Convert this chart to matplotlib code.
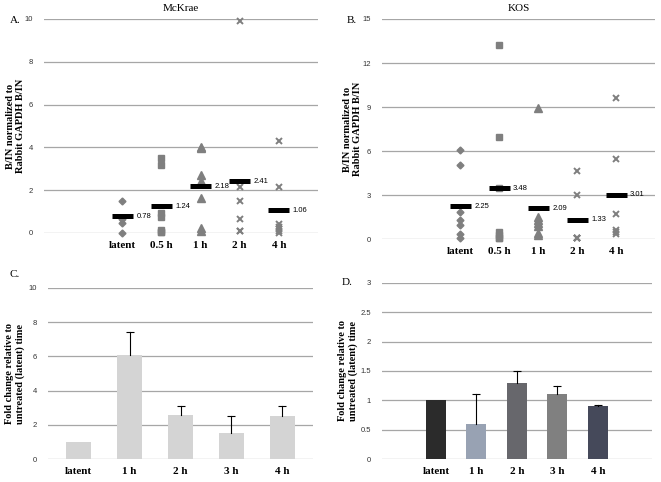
"""
Four-panel figure: B/IN scatter with means (McKrae, KOS) and fold-change bars.
"""
import matplotlib
matplotlib.use("Agg")
import matplotlib.pyplot as plt
from matplotlib.ticker import FuncFormatter
import numpy as np

SERIF = ["Liberation Serif", "DejaVu Serif"]
SANS = ["Liberation Sans", "DejaVu Sans"]
GRID = "#a6a6a6"
MARK = "#7f7f7f"

# --- panel A / B: individual values and group means --------------------------
scatter_cats = ["latent", "0.5 h", "1 h", "2 h", "4 h"]
scatter_markers = ["D", "s", "^", "x", "x"]

mckrae_vals = [
    [1.48, 0.67, 0.47, 0.0],
    [3.5, 3.2, 0.95, 0.75, 0.15, 0.05, 0.05],
    [4.0, 3.95, 2.7, 2.45, 1.65, 0.25, 0.1],
    [9.9, 2.15, 1.5, 0.65, 0.1, 0.1],
    [4.3, 2.15, 0.4, 0.3, 0.2, 0.1, 0.0],
]
mckrae_means = [0.78, 1.24, 2.18, 2.41, 1.06]

kos_vals = [
    [6.08, 5.06, 1.84, 1.32, 0.98, 0.34, 0.09],
    [13.2, 6.95, 3.5, 0.45, 0.25, 0.1, 0.05],
    [8.95, 1.5, 1.3, 1.1, 0.9, 0.4, 0.25],
    [4.65, 3.0, 0.1, 0.1, 0.05, 0.05],
    [9.6, 5.45, 1.7, 0.6, 0.45, 0.35],
]
kos_means = [2.25, 3.48, 2.09, 1.33, 3.01]

# --- panel C / D: fold change bars --------------------------------------------
bar_cats = ["latent", "1 h", "2 h", "3 h", "4 h"]
mckrae_fold = [1.0, 6.1, 2.6, 1.5, 2.5]
mckrae_err = [0.0, 1.3, 0.5, 1.0, 0.6]
kos_fold = [1.0, 0.6, 1.3, 1.1, 0.9]
kos_err = [0.0, 0.5, 0.2, 0.15, 0.02]
kos_colors = ["#2b2b2b", "#98a2b3", "#67676c", "#808080", "#45495a"]

fig = plt.figure(figsize=(6.61, 4.82), dpi=100)
general = FuncFormatter(lambda v, _: f"{v:g}")


def style(ax, ymax, step, ylabel, letter, lx, ly, labx):
    ax.set_ylim(0, ymax)
    ax.set_yticks(np.arange(0, ymax + step / 2, step))
    ax.yaxis.set_major_formatter(general)
    ax.yaxis.grid(True, color=GRID, lw=0.9)
    ax.set_axisbelow(True)
    for s in ax.spines.values():
        s.set_visible(False)
    ax.tick_params(length=0, axis="y", labelsize=5.5, labelcolor="#333333", pad=8)
    ax.tick_params(length=0, axis="x", pad=6)
    for t in ax.get_yticklabels():
        t.set_fontfamily(SANS)
    for t in ax.get_xticklabels():
        t.set_fontfamily(SERIF)
        t.set_fontweight("bold")
        t.set_fontsize(8)
    ax.set_ylabel(ylabel, family=SERIF, fontweight="bold", fontsize=7.5)
    ax.yaxis.set_label_coords(labx, 0.5)
    fig.text(lx, ly, letter, family=SERIF, fontsize=8, va="center")


def scatter_panel(rect, vals, means, ymax, step, title, letter, lx, ly, labx):
    ax = fig.add_axes(rect)
    x0 = 2
    for i, (v, m, mk) in enumerate(zip(vals, means, scatter_markers)):
        xs = np.full(len(v), x0 + i)
        kw = dict(color=MARK, ls="none", clip_on=False, zorder=3)
        if mk == "D":
            ax.plot(xs, v, marker="D", ms=3.5, **kw)
        elif mk == "s":
            ax.plot(xs, v, marker="s", ms=5, **kw)
        elif mk == "^":
            ax.plot(xs, v, marker="^", ms=5.5, **kw)
        else:
            ax.plot(xs, v, marker="x", ms=5, mew=1.4, **kw)
        ax.plot([x0 + i - 0.27, x0 + i + 0.27], [m, m], color="black", lw=3.6,
                solid_capstyle="butt", zorder=4)
        ax.text(x0 + i + 0.36, m, f"{m:.2f}", family=SANS, fontsize=5.5,
                va="center", ha="left", zorder=5)
    ax.set_xlim(0, 7)
    ax.set_xticks(np.arange(x0, x0 + len(scatter_cats)))
    ax.set_xticklabels(scatter_cats)
    ax.set_title(title, family=SERIF, fontsize=8, pad=6)
    style(ax, ymax, step, "B/IN normalized to\nRabbit GAPDH B/IN", letter, lx, ly, labx)
    return ax


def bar_panel(rect, vals, errs, colors, xlim, ymax, step, letter, lx, ly, labx):
    ax = fig.add_axes(rect)
    x = np.arange(len(bar_cats))
    ax.bar(x, vals, width=0.49, color=colors, zorder=2)
    # plus-only error bars: stem from the bar top and a cap at the end
    for xi, v, e in zip(x, vals, errs):
        if e > 0:
            ax.plot([xi, xi], [v, v + e], color="black", lw=0.8, zorder=3)
            ax.plot(xi, v + e, marker="_", ms=6, mew=0.8, color="black", zorder=3)
    ax.set_xlim(*xlim)
    ax.set_xticks(x)
    ax.set_xticklabels(bar_cats)
    style(ax, ymax, step, "Fold change relative to\nuntreated (latent) time",
          letter, lx, ly, labx)
    return ax


scatter_panel([0.0666, 0.5166, 0.4145, 0.444], mckrae_vals, mckrae_means,
              10, 2, "McKrae", "A.", 0.015, 0.958, -0.069)
scatter_panel([0.578, 0.504, 0.413, 0.4566], kos_vals, kos_means,
              15, 3, "KOS", "B.", 0.524, 0.958, -0.073)
bar_panel([0.0726, 0.0477, 0.401, 0.3548], mckrae_fold, mckrae_err,
          "#d4d4d4", (-0.6, 4.6), 10, 2, "C.", 0.015, 0.43, -0.087)
bar_panel([0.578, 0.0477, 0.408, 0.3652], kos_fold, kos_err,
          kos_colors, (-1.33, 5.33), 3, 0.5, "D.", 0.517, 0.413, -0.089)

fig.savefig("out.png", dpi=100)
